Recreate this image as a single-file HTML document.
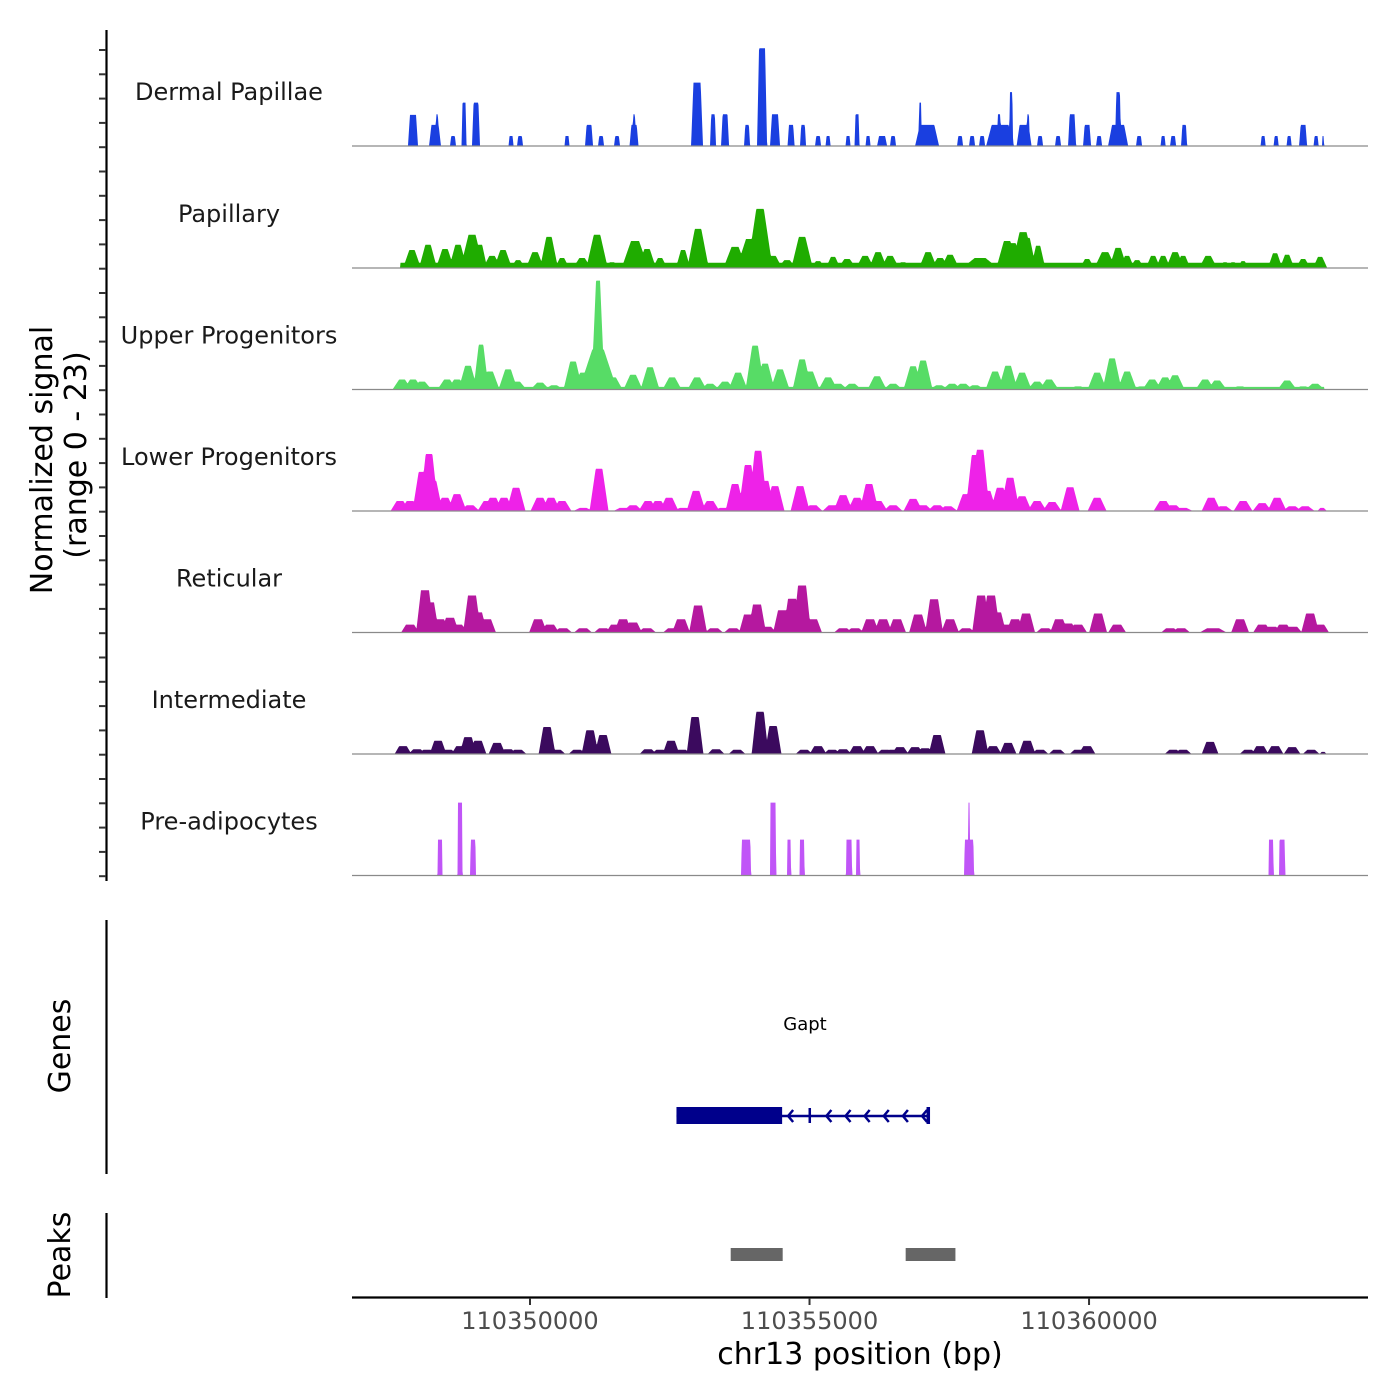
<!DOCTYPE html>
<html><head><meta charset="utf-8"><style>
html,body{margin:0;padding:0;background:#fff;}
svg{display:block;font-family:"DejaVu Sans","Liberation Sans",sans-serif;}
</style></head><body>
<svg id="chart" width="1400" height="1400" viewBox="0 0 1400 1400" xmlns="http://www.w3.org/2000/svg">
<g id="tracks"></g>
<g id="labels"></g>
<line x1="106.5" y1="30" x2="106.5" y2="881" stroke="#000" stroke-width="2.2"/>
<g id="yticks"></g>
<g font-size="30" fill="#000" text-anchor="middle">
<text transform="translate(52,460) rotate(-90)">Normalized signal</text>
<text transform="translate(86,455) rotate(-90)">(range 0 - 23)</text>
</g>
<line x1="106.5" y1="920" x2="106.5" y2="1174" stroke="#000" stroke-width="2.2"/>
<text transform="translate(70,1046) rotate(-90)" font-size="30" text-anchor="middle">Genes</text>
<text x="805" y="1030" font-size="18" text-anchor="middle">Gapt</text>
<g id="gene" fill="#00008b" stroke="#00008b"></g>
<line x1="106.5" y1="1213" x2="106.5" y2="1298" stroke="#000" stroke-width="2.2"/>
<text transform="translate(70,1255) rotate(-90)" font-size="30" text-anchor="middle">Peaks</text>
<g id="peaks"></g>
<line x1="352" y1="1297.5" x2="1368" y2="1297.5" stroke="#000" stroke-width="2.2"/>
<g id="xticks"></g>
<text x="860" y="1364" font-size="30" text-anchor="middle">chr13 position (bp)</text>
</svg>
<script>
const regionStart = 110346816;
const regionEnd = 110364990;
const trackNames = ["Dermal Papillae","Papillary","Upper Progenitors","Lower Progenitors","Reticular","Intermediate","Pre-adipocytes"];
const trackColors = ["#1a3fe0","#1fac00","#57dc66","#ee22e8","#b5189f","#3b0a5e","#c055f7"];
const yMax = 23;
const xTicks = [110350000,110355000,110360000];
const tickLabels = ["110350000","110355000","110360000"];
// peaks: [offset bp from regionStart, half-width bp, value]
const dermalPeaks = [[1091,90,5.9],[1485,107,4],[1521,27,6],[1807,54,1.9],[2004,45,8.2],[2218,72,8.2],[2845,45,1.9],[3006,54,1.9],[3846,45,1.9],[4240,72,4],[4455,54,1.9],[4741,54,1.9],[5045,80,4],[5045,27,6],[6172,107,12],[6458,54,6],[6673,72,6],[7067,54,4],[7335,90,18.5],[7567,90,6],[7854,63,4],[8068,54,4],[8337,54,1.9],[8516,45,1.9],[8873,45,1.9],[9034,45,6],[9231,45,1.9],[9482,90,1.9],[9678,54,1.9],[10287,215,4],[10162,27,8.2],[10877,54,1.9],[11092,54,1.9],[11271,54,1.9],[11593,250,4],[11575,36,6],[11790,36,10.2],[12022,134,4],[12093,27,6],[12308,54,1.9],[12630,54,1.9],[12881,72,6],[13149,72,4],[13364,54,1.9],[13704,180,4],[13704,54,10.2],[14079,54,1.9],[14509,45,1.9],[14688,54,1.9],[14885,54,4],[16298,45,1.9],[16531,45,1.9],[16763,45,1.9],[17013,72,4],[17246,45,1.9],[17371,18,1.9]];
const papillaryPeaks = [[1073,100,3.4],[1360,100,4.4],[1664,100,3.6],[1896,100,4.4],[2147,130,6.3],[2290,80,4.4],[2505,100,2.3],[2701,100,3.4],[2970,80,1.5],[3274,100,3.0],[3524,100,5.9],[3757,80,1.9],[4115,100,1.9],[4383,120,6.3],[4651,80,1.1],[5063,150,5.1],[5278,100,3.6],[5510,80,1.9],[5922,80,3.4],[6190,120,7.4],[6584,80,0.9],[6852,130,4.0],[7120,150,5.5],[7299,140,11.2],[7532,100,2.3],[7782,100,1.5],[8051,120,5.9],[8337,80,1.3],[8605,80,2.1],[8856,100,1.7],[9178,100,2.3],[9410,100,3.0],[9625,100,2.3],[9857,80,1.1],[10305,100,3.0],[10519,100,1.9],[10698,100,2.5],[11235,200,1.9],[11718,120,5.1],[11825,100,4.7],[12004,130,6.8],[12076,100,5.7],[12273,80,4.2],[13149,80,1.7],[13471,120,3.0],[13704,100,3.8],[13864,80,2.3],[14043,80,1.5],[14330,80,2.3],[14509,80,2.3],[14723,100,3.0],[14867,80,2.3],[15314,100,2.3],[15618,60,1.1],[15761,60,1.1],[15940,60,1.3],[16512,80,2.8],[16727,80,2.5],[17013,80,1.7],[17317,80,2.1]];
const upperPeaks = [[895,100,1.9],[1091,100,1.9],[1252,100,1.5],[1700,100,1.9],[1878,100,1.9],[2075,100,4.5],[2308,80,8.5],[2469,100,3.4],[2791,100,3.8],[2952,100,1.5],[3363,100,1.3],[3614,100,0.8],[3954,100,5.3],[4133,100,3.2],[4401,70,20.6],[4401,200,7.6],[4669,100,2.3],[5027,100,2.8],[5331,100,4.2],[5725,100,2.3],[6172,100,2.3],[6405,100,1.1],[6673,100,1.5],[6906,100,3.2],[7210,100,8.3],[7389,100,4.9],[7657,100,3.8],[8051,100,5.7],[8194,100,3.4],[8516,100,2.3],[8695,100,1.1],[8945,100,1.1],[9392,100,2.5],[9678,100,1.1],[10036,100,4.4],[10215,100,5.5],[10501,100,0.8],[10734,100,1.1],[10931,100,1.1],[11145,100,0.8],[11503,100,3.4],[11736,100,4.5],[11986,100,3.2],[12255,100,1.5],[12469,100,1.9],[12988,100,0.6],[13328,100,3.2],[13596,100,5.9],[13865,100,3.4],[14133,100,0.6],[14312,100,1.9],[14545,100,2.3],[14723,100,2.7],[15260,100,1.9],[15475,100,1.7],[15886,100,0.6],[16727,100,1.7],[17013,100,0.6],[17228,100,1.1]];
const lowerPeaks = [[859,100,1.9],[1038,100,1.9],[1252,100,7.4],[1378,100,10.8],[1449,100,5.7],[1664,100,2.5],[1878,100,3.2],[2111,100,1.1],[2415,100,1.9],[2522,100,2.5],[2719,100,2.5],[2934,100,4.4],[3363,100,2.5],[3560,100,2.5],[3757,100,1.9],[4133,100,0.6],[4419,100,8.0],[4848,100,0.6],[5027,100,1.1],[5295,100,1.9],[5474,100,1.9],[5671,100,2.5],[5922,100,0.6],[6154,100,3.8],[6405,100,1.9],[6637,100,0.6],[6852,100,5.1],[7084,100,8.7],[7263,100,11.4],[7389,100,5.7],[7567,100,4.7],[8015,100,4.7],[8247,100,1.1],[8587,100,1.1],[8784,100,3.0],[9034,100,2.5],[9249,100,5.1],[9410,100,1.9],[9678,100,1.1],[10036,100,2.3],[10215,100,1.1],[10466,100,1.1],[10662,100,0.9],[10984,100,3.2],[11145,100,10.6],[11235,100,11.6],[11360,100,3.8],[11593,100,4.4],[11772,100,6.3],[11986,100,2.8],[12255,100,1.9],[12523,100,1.7],[12845,100,4.5],[13328,100,2.5],[14509,100,1.9],[14688,100,1.1],[14867,100,0.6],[15368,100,2.5],[15582,100,0.9],[15940,100,1.9],[16280,100,1.5],[16548,100,2.5],[16817,100,0.9],[17049,100,0.9],[17353,50,0.6]];
const reticularPeaks = [[1038,100,1.5],[1306,100,8.0],[1395,100,5.7],[1574,100,2.5],[1753,100,2.8],[1896,100,1.5],[2147,100,7.0],[2254,100,3.8],[2415,100,2.5],[3328,100,2.5],[3542,100,1.5],[3775,100,0.8],[4133,100,0.8],[4490,100,0.8],[4705,100,1.5],[4848,100,2.5],[5027,100,1.9],[5278,100,0.8],[5725,100,0.8],[5886,100,2.5],[6190,100,5.1],[6476,100,0.8],[6816,100,0.8],[7084,100,3.4],[7245,100,5.3],[7424,100,1.1],[7693,100,4.2],[7872,100,6.4],[8051,100,8.9],[8247,100,2.5],[8784,100,0.8],[8999,100,0.8],[9267,100,2.5],[9500,100,2.5],[9750,100,2.5],[10126,100,3.4],[10412,100,6.3],[10698,100,2.5],[10984,100,0.8],[11253,100,7.0],[11432,100,7.0],[11539,100,3.8],[11718,100,1.5],[11861,100,2.5],[12058,100,3.6],[12398,100,0.8],[12648,100,2.5],[12809,100,1.7],[12988,100,1.5],[13346,100,3.6],[13686,100,1.5],[14634,100,0.8],[14831,100,0.8],[15403,150,0.8],[15886,100,2.5],[16280,100,1.5],[16459,100,1.1],[16656,100,1.5],[16834,100,1.1],[17139,100,3.6],[17317,100,1.5]];
const intermediatePeaks = [[912,100,1.5],[1163,100,0.9],[1342,100,0.8],[1539,100,2.5],[1717,100,0.8],[1932,100,1.5],[2075,100,3.2],[2254,100,2.5],[2594,100,2.1],[2791,100,0.9],[2970,100,0.8],[3489,100,5.1],[3667,100,0.8],[4025,100,0.8],[4258,100,4.5],[4490,100,3.6],[5295,100,0.9],[5510,100,0.8],[5707,100,2.5],[5904,100,0.8],[6136,100,7.0],[6512,100,0.9],[6888,100,0.8],[7299,100,8.0],[7532,100,5.3],[8086,100,0.8],[8337,100,1.5],[8587,100,0.8],[8784,100,0.9],[9034,100,1.5],[9267,100,1.5],[9535,100,0.8],[9678,100,0.8],[9804,100,1.3],[10072,100,1.3],[10251,100,1.1],[10466,100,3.6],[11235,100,4.5],[11467,100,1.5],[11736,100,2.1],[12076,100,2.5],[12308,100,0.8],[12612,100,0.8],[12988,100,0.8],[13149,100,1.5],[14688,100,0.8],[14867,100,0.8],[15350,100,2.3],[16029,100,0.8],[16244,100,1.5],[16512,100,1.5],[16817,100,1.3],[17157,100,0.8],[17371,40,0.4]];
const preadipPeaks = [[1574,45,6.8],[1932,45,13.8],[2165,50,6.8],[7049,90,6.8],[7532,55,13.8],[7818,36,6.8],[8051,45,6.8],[8891,55,6.8],[9052,36,6.8],[11038,90,6.8],[11038,15,13.8],[16441,45,6.8],[16638,55,6.8]];
// background coverage: [start offset, end offset, value]
const papillaryFloor = [[859,17389,1.0]];
const upperFloor = [[859,17389,0.5]];
const trackPeaks = [dermalPeaks,papillaryPeaks,upperPeaks,lowerPeaks,reticularPeaks,intermediatePeaks,preadipPeaks];
const trackFloors = [[],papillaryFloor,upperFloor,[],[],[],[]];
const trackFlat = [0.6,0.3,0.3,0.35,0.45,0.45,0.85];
const trackWidthScale = [1,1.6,1.7,1.7,1.6,1.5,1];
const peakStarts = [110353590,110356720];
const peakEnds = [110354520,110357610];
const geneStart = 110352620;
const geneEnd = 110357120;
const cdsEnd = 110354510;

const NS = "http://www.w3.org/2000/svg";
const X0 = 352, X1 = 1368;
function xScale(bp){ return X0 + (bp - regionStart) / (regionEnd - regionStart) * (X1 - X0); }
const baselines = [146,268,389.5,511,632.5,754,875.5];
const trackH = 121.5;
function yScale(v, i){ return baselines[i] - Math.min(v, yMax) / yMax * trackH; }
function mk(tag, attrs, parent){ const e = document.createElementNS(NS, tag); for (const k in attrs) e.setAttribute(k, attrs[k]); parent.appendChild(e); return e; }

const tracksG = document.getElementById('tracks');
const labelsG = document.getElementById('labels');
trackNames.forEach((name, i) => {
  const g = mk('g', {}, tracksG);
  
  
  const peaks = trackPeaks[i], floors = trackFloors[i], f = trackFlat[i], ws = trackWidthScale[i];
  let d = '';
  for (let px = X0; px <= X1; px += 0.5) {
    const off = (px - X0) / (X1 - X0) * (regionEnd - regionStart);
    let v = 0;
    floors.forEach(fl => { if (off >= fl[0] && off <= fl[1]) v = Math.max(v, fl[2]); });
    peaks.forEach(p => {
      const t = Math.abs(off - p[0]), hw = p[1] * ws;
      if (t <= hw * f) v = Math.max(v, p[2]);
      else if (t < hw) v = Math.max(v, p[2] * (hw - t) / (hw * (1 - f)));
    });
    d += (d ? 'L' : 'M') + px.toFixed(1) + ',' + yScale(v, i).toFixed(2);
  }
  d += 'L' + X1 + ',' + baselines[i] + 'L' + X0 + ',' + baselines[i] + 'Z';
  const area = mk('path', {d: d, fill: trackColors[i]}, g);
  
  
  const base = mk('line', {x1: X0, x2: X1, y1: baselines[i], y2: baselines[i], stroke: '#8a8a8a', 'stroke-width': 1.2}, g);
  
  
  const lab = mk('text', {x: 229, y: baselines[i] - 46, 'font-size': 24, 'text-anchor': 'middle', fill: '#1a1a1a'}, labelsG);
  lab.textContent = name;
  
  
});

const yt = document.getElementById('yticks');
for (let k = 0; k < 35; k++) {
  const y = 50 + k * 24.3;
  const t = mk('line', {x1: 99, x2: 106, y1: y, y2: y, stroke: '#333', 'stroke-width': 2}, yt);
  
  
}

const xt = document.getElementById('xticks');
xTicks.forEach((bp, k) => {
  const x = xScale(bp);
  const t = mk('line', {x1: x, x2: x, y1: 1298, y2: 1305, stroke: '#333', 'stroke-width': 2}, xt);
  
  
  const l = mk('text', {x: x, y: 1329, 'font-size': 24, 'text-anchor': 'middle', fill: '#4d4d4d'}, xt);
  l.textContent = tickLabels[k];
  
  
});

const pg = document.getElementById('peaks');
peakStarts.forEach((s, k) => {
  const r = mk('rect', {x: xScale(s), y: 1248, width: xScale(peakEnds[k]) - xScale(s), height: 13, fill: '#666666'}, pg);
  
  
});

const gg = document.getElementById('gene');
const gx0 = xScale(geneStart), gx1 = xScale(geneEnd), cx = xScale(cdsEnd);
const gl = mk('line', {x1: gx0, x2: gx1, y1: 1116, y2: 1116, 'stroke-width': 2.5}, gg);


const ex = mk('rect', {x: gx0, y: 1107, width: cx - gx0, height: 17, stroke: 'none'}, gg);


const eb = mk('rect', {x: gx1 - 1.5, y: 1107, width: 3.5, height: 17, stroke: 'none'}, gg);


const mb = mk('rect', {x: xScale(110355000) - 1, y: 1108, width: 2.5, height: 15, stroke: 'none'}, gg);


for (let k = 0; k < 8; k++) {
  const ax = cx + 6 + k * (gx1 - cx - 12) / 7;
  if (Math.abs(ax - xScale(110355000)) < 6) continue;
  const a = mk('path', {d: 'M' + (ax + 5) + ',1110L' + ax + ',1116L' + (ax + 5) + ',1122', fill: 'none', 'stroke-width': 2.5}, gg);
  
  
}
</script>
</body></html>
